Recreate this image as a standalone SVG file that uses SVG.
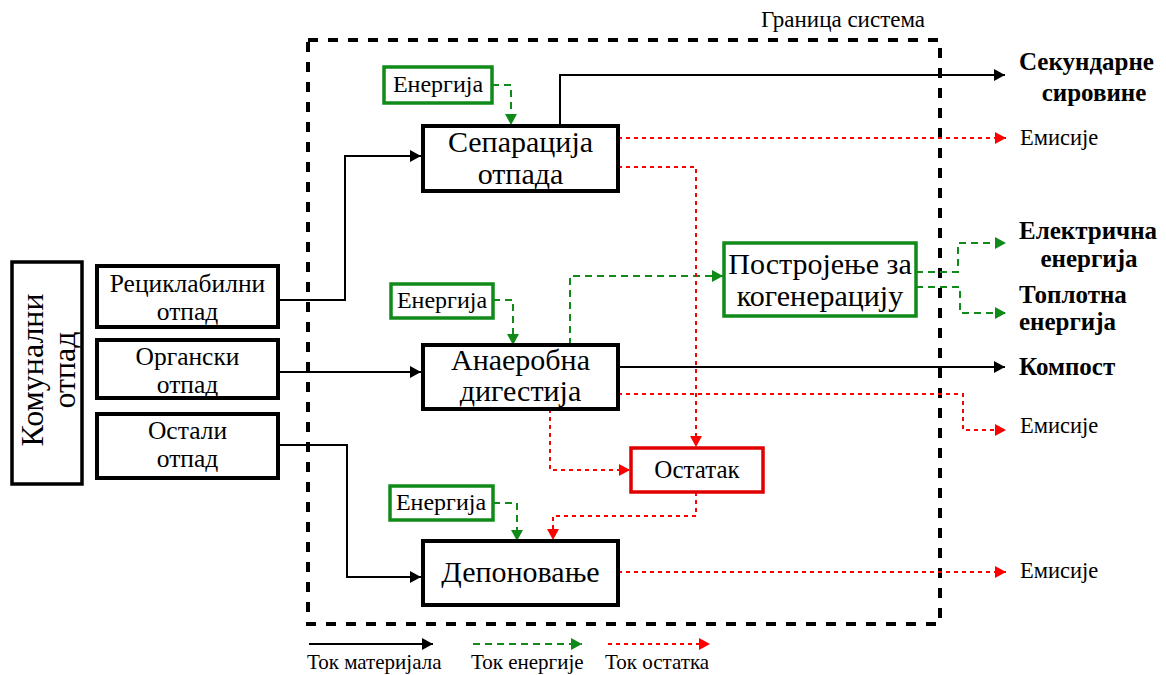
<svg xmlns="http://www.w3.org/2000/svg" width="1166" height="675" viewBox="0 0 1166 675">
<style>
text{font-family:"Liberation Serif","Times New Roman",serif;fill:#000}
.big{font-size:30px}
.mid{font-size:25.5px}
.en-t{font-size:24px}
.out{font-size:22.5px}
.bold{font-size:25px;font-weight:bold}
.leg{font-size:21px}
.box{fill:#fff;stroke:#000;stroke-width:4}
.gbox{fill:#fff;stroke:#108a18;stroke-width:3.5}
.rbox{fill:#fff;stroke:#e00000;stroke-width:3.5}
.mat{fill:none;stroke:#000;stroke-width:2}
.en{fill:none;stroke:#108a18;stroke-width:2;stroke-dasharray:7 5}
.res{fill:none;stroke:#ff0000;stroke-width:2;stroke-dasharray:4 4}
</style>
<defs>
<marker id="aK" markerUnits="userSpaceOnUse" markerWidth="12" markerHeight="12" refX="11" refY="6" orient="auto"><path d="M0,0 L11,6 L0,12 z" fill="#000"/></marker>
<marker id="aG" markerUnits="userSpaceOnUse" markerWidth="12" markerHeight="12" refX="11" refY="6" orient="auto"><path d="M0,0 L11,6 L0,12 z" fill="#108a18"/></marker>
<marker id="aR" markerUnits="userSpaceOnUse" markerWidth="12" markerHeight="12" refX="11" refY="6" orient="auto"><path d="M0,0 L11,6 L0,12 z" fill="#ff0000"/></marker>
</defs>
<rect width="1166" height="675" fill="#fff"/>

<g id="boundary">
<rect x="308" y="40" width="632" height="584" fill="none" stroke="#000" stroke-width="4" stroke-dasharray="10 10"/>
<text x="843" y="27" style="font-size:23px" text-anchor="middle">Граница система</text>
</g>

<g id="connectors">
<path class="mat" d="M278,300 H345 V156 H421" marker-end="url(#aK)"/>
<path class="mat" d="M278,372 H421" marker-end="url(#aK)"/>
<path class="mat" d="M278,445 H347 V577 H421" marker-end="url(#aK)"/>
<path class="mat" d="M560,125 V75 H1005" marker-end="url(#aK)"/>
<path class="mat" d="M618,367 H1005" marker-end="url(#aK)"/>
<path class="en" d="M492,85 H511 V125" marker-end="url(#aG)"/>
<path class="en" d="M493,300 H513 V345" marker-end="url(#aG)"/>
<path class="en" d="M493,503 H517 V541" marker-end="url(#aG)"/>
<path class="en" d="M570,345 V276 H723" marker-end="url(#aG)"/>
<path class="en" d="M916,272 H958 V243 H1006" marker-end="url(#aG)"/>
<path class="en" d="M916,287 H960 V313 H1006" marker-end="url(#aG)"/>
<path class="res" d="M618,138 H1006" marker-end="url(#aR)"/>
<path class="res" d="M618,167 H696 V447" marker-end="url(#aR)"/>
<path class="res" d="M618,394 H963 V430 H1006" marker-end="url(#aR)"/>
<path class="res" d="M550,409 V470 H630" marker-end="url(#aR)"/>
<path class="res" d="M696,492 V516 H553 V540" marker-end="url(#aR)"/>
<path class="res" d="M618,572 H1006" marker-end="url(#aR)"/>
</g>

<g id="komunalni">
<rect x="12" y="262" width="70" height="222" fill="#fff" stroke="#000" stroke-width="3.5"/>
<text transform="translate(43,370) rotate(-90)" text-anchor="middle" style="font-size:32px">Комунални</text>
<text transform="translate(75,370) rotate(-90)" text-anchor="middle" style="font-size:32px">отпад</text>
</g>
<g id="reciklabilni">
<rect class="box" x="97" y="266" width="181" height="61"/>
<text class="mid" x="187.5" y="292" text-anchor="middle">Рециклабилни</text>
<text class="mid" x="187.5" y="320" text-anchor="middle">отпад</text>
</g>
<g id="organski">
<rect class="box" x="97" y="340" width="181" height="58"/>
<text class="mid" x="187.5" y="365" text-anchor="middle">Органски</text>
<text class="mid" x="187.5" y="393" text-anchor="middle">отпад</text>
</g>
<g id="ostali">
<rect class="box" x="97" y="414" width="181" height="64"/>
<text class="mid" x="187.5" y="439" text-anchor="middle">Остали</text>
<text class="mid" x="187.5" y="467" text-anchor="middle">отпад</text>
</g>

<g id="energija1">
<rect class="gbox" x="384" y="67" width="108" height="36"/>
<text class="en-t" x="438" y="92" text-anchor="middle">Енергија</text>
</g>
<g id="separacija">
<rect class="box" x="423" y="126" width="195" height="65"/>
<text class="big" x="520.5" y="152" text-anchor="middle">Сепарација</text>
<text class="big" x="520.5" y="184" text-anchor="middle">отпада</text>
</g>
<g id="energija2">
<rect class="gbox" x="391" y="284" width="102" height="34"/>
<text class="en-t" x="442" y="308" text-anchor="middle">Енергија</text>
</g>
<g id="anaerobna">
<rect class="box" x="423" y="345" width="195" height="64"/>
<text class="big" x="520.5" y="370" text-anchor="middle">Анаеробна</text>
<text class="big" x="520.5" y="401" text-anchor="middle">дигестија</text>
</g>
<g id="kogeneracija">
<rect class="gbox" x="724" y="243" width="192" height="73"/>
<text class="big" x="820" y="274" text-anchor="middle">Постројење за</text>
<text class="big" x="820" y="306" text-anchor="middle">когенерацију</text>
</g>
<g id="ostatak">
<rect class="rbox" x="631" y="448" width="132" height="44"/>
<text x="697" y="478" text-anchor="middle" style="font-size:25px">Остатак</text>
</g>
<g id="energija3">
<rect class="gbox" x="390" y="486" width="103" height="34"/>
<text class="en-t" x="441" y="510" text-anchor="middle">Енергија</text>
</g>
<g id="deponovanje">
<rect class="box" x="423" y="541" width="195" height="64"/>
<text class="big" x="520.5" y="582" text-anchor="middle">Депоновање</text>
</g>

<g id="outputs">
<text class="bold" x="1019" y="70">Секундарне</text>
<text class="bold" x="1094" y="101" text-anchor="middle">сировине</text>
<text class="out" x="1020" y="145">Емисије</text>
<text class="bold" x="1019" y="239">Електрична</text>
<text class="bold" x="1089" y="267" text-anchor="middle">енергија</text>
<text class="bold" x="1019" y="303">Топлотна</text>
<text class="bold" x="1019" y="330">енергија</text>
<text class="bold" x="1019" y="375">Компост</text>
<text class="out" x="1020" y="433">Емисије</text>
<text class="out" x="1020" y="578">Емисије</text>
</g>

<g id="legend">
<line class="mat" x1="309" y1="644" x2="433" y2="644" marker-end="url(#aK)"/>
<line class="en" x1="473" y1="644" x2="582" y2="644" marker-end="url(#aG)"/>
<line class="res" x1="608" y1="644" x2="710" y2="644" marker-end="url(#aR)"/>
<text class="leg" x="307" y="669">Ток материјала</text>
<text class="leg" x="471" y="669">Ток енергије</text>
<text class="leg" x="605" y="669">Ток остатка</text>
</g>
</svg>
